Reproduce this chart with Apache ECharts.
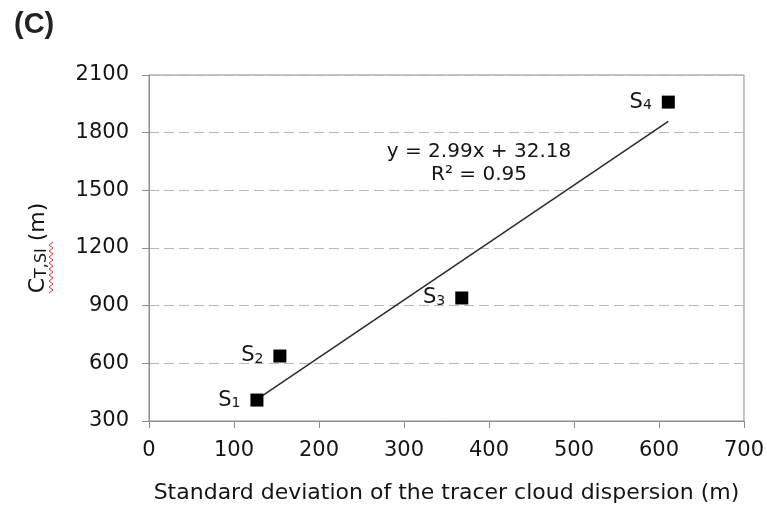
<!DOCTYPE html>
<html>
<head>
<meta charset="utf-8">
<script src="https://cdn.jsdelivr.net/npm/echarts@6/dist/echarts.min.js"></script>
<style>
  html, body { margin: 0; padding: 0; background: #fff; }
  #chart { width: 767px; height: 512px; }
</style>
</head>
<body>
<div id="chart"></div>
<script>
// 数据
var siteNames = ['1', '2', '3', '4'];
var sdX = [127, 154, 368, 611];
var ctY = [409, 638, 940, 1959];
// 趋势线 y = 2.99x + 32.18
var slope = 2.99;
var intercept = 32.18;
var trendX = [127, 611];
var eqText = 'y = 2.99x + 32.18';
var r2Text = 'R² = 0.95';

var myChart = echarts.init(document.getElementById('chart'));
var font = 'DejaVu Sans, sans-serif';
var ink = '#151515';

var points = sdX.map(function (x, i) { return [x, ctY[i]]; });
var trend = trendX.map(function (x) { return [x, slope * x + intercept]; });

// 红色波浪线（拼写检查）
var wavy = [];
for (var yy = 293; yy >= 242; yy -= 3) {
    wavy.push([(293 - yy) / 3 % 2 === 0 ? 49 : 53, yy]);
}

var option = {
    animation: false,
    textStyle: { fontFamily: font },
    grid: {
        left: 149, right: 22, top: 75, bottom: 91,
        show: true,
        borderColor: '#8c8c8c',
        borderWidth: 1
    },
    graphic: [
        { type: 'text', left: 14, top: 10, style: { text: '(C)', font: 'bold 29px Liberation Sans, Arial, sans-serif', fill: '#222' } },
        { type: 'text', x: 479, y: 142, style: { text: eqText, font: '20px ' + font, fill: ink, align: 'center' } },
        { type: 'text', x: 479, y: 165, style: { text: r2Text, font: '20px ' + font, fill: ink, align: 'center' } },
        {
            type: 'polyline',
            shape: { points: wavy },
            style: { stroke: '#f03030', lineWidth: 1, fill: null }
        }
    ],
    xAxis: {
        type: 'value',
        min: 0, max: 700, interval: 100,
        name: 'Standard deviation of the tracer cloud dispersion (m)',
        nameLocation: 'middle',
        nameGap: 61,
        nameTextStyle: { fontSize: 22, color: ink, fontFamily: font },
        axisLine: { show: true, onZero: false, lineStyle: { color: '#8c8c8c', width: 1 } },
        axisTick: { show: true, length: 7, lineStyle: { color: '#8c8c8c' } },
        axisLabel: { fontSize: 21, color: ink, margin: 19, fontFamily: font },
        splitLine: { show: false }
    },
    yAxis: {
        type: 'value',
        min: 300, max: 2100, interval: 300,
        name: '{c|C}{s|T,SI}{c| (m)}',
        nameLocation: 'middle',
        nameRotate: 90,
        nameGap: 99,
        nameTextStyle: {
            rich: {
                c: { fontSize: 22, color: ink, fontFamily: font },
                s: { fontSize: 16, color: ink, fontFamily: font, padding: [7, 0, 0, 0] }
            }
        },
        axisLine: { show: true, lineStyle: { color: '#8c8c8c', width: 1 } },
        axisTick: { show: true, length: 7, lineStyle: { color: '#8c8c8c' } },
        axisLabel: {
            fontSize: 21, color: ink, margin: 20, fontFamily: font,
            formatter: function (v) { return String(v); }
        },
        splitLine: { show: true, lineStyle: { color: '#b8b8b8', type: [10, 5], width: 1 } }
    },
    series: [
        {
            type: 'line',
            data: trend,
            symbol: 'none',
            lineStyle: { color: '#2a2a2a', width: 1.5 },
            z: 2
        },
        {
            type: 'scatter',
            data: points,
            symbol: 'rect',
            symbolSize: 13,
            itemStyle: { color: '#000', opacity: 1 },
            label: {
                show: true,
                position: 'left',
                distance: 10,
                color: ink,
                formatter: function (p) { return '{a|S}{b|' + siteNames[p.dataIndex] + '}'; },
                rich: {
                    a: { fontSize: 21, color: ink, fontFamily: font },
                    b: { fontSize: 14, color: ink, fontFamily: font, padding: [7, 0, 0, 0] }
                }
            },
            z: 3
        }
    ]
};

myChart.setOption(option);
</script>
</body>
</html>
